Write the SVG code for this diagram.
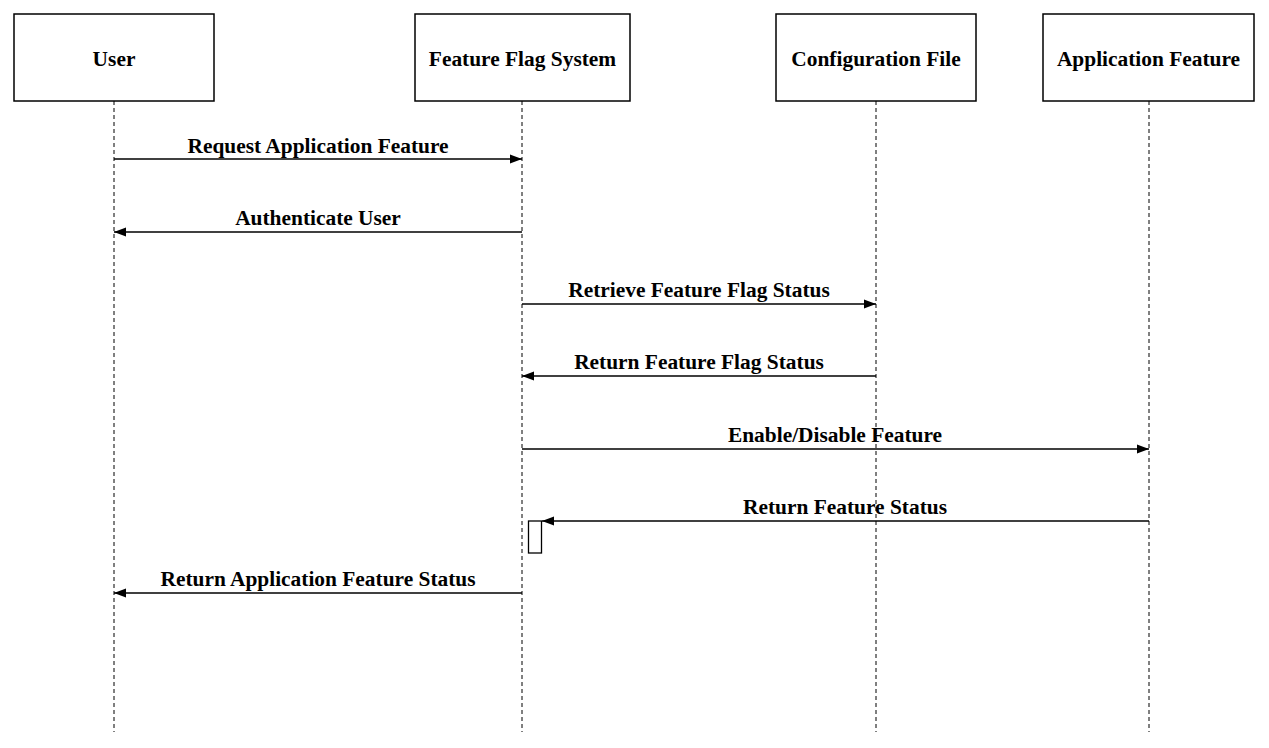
<svg xmlns="http://www.w3.org/2000/svg" width="1269" height="748" viewBox="0 0 1269 748">
<style>
.box{fill:#fff;stroke:#000;stroke-width:1.5}
.life{stroke:#000;stroke-width:1;stroke-dasharray:4,3}
.msg{stroke:#000;stroke-width:1.3;fill:none}
text{font-family:"Liberation Serif","Times New Roman",serif;font-weight:bold;font-size:21.4px;fill:#000;text-anchor:middle}
</style>
<defs>
<marker id="ah" viewBox="0 0 12 10" refX="12" refY="5" markerWidth="12" markerHeight="10" markerUnits="userSpaceOnUse" orient="auto">
<path d="M0,0.5 L12,5 L0,9.5 Z" fill="#000"/>
</marker>
</defs>
<rect width="1269" height="748" fill="#fff"/>
<g id="lifelines">
<line class="life" x1="114" y1="101" x2="114" y2="732"/>
<line class="life" x1="522" y1="101" x2="522" y2="732"/>
<line class="life" x1="876" y1="101" x2="876" y2="732"/>
<line class="life" x1="1149" y1="101" x2="1149" y2="732"/>
</g>
<g id="user"><rect class="box" x="14" y="14" width="200" height="87"/><text x="114" y="65.5">User</text></g>
<g id="ffs"><rect class="box" x="415" y="14" width="215" height="87"/><text x="522.5" y="65.5">Feature Flag System</text></g>
<g id="config"><rect class="box" x="776" y="14" width="200" height="87"/><text x="876" y="65.5">Configuration File</text></g>
<g id="appfeature"><rect class="box" x="1043" y="14" width="211" height="87"/><text x="1148.5" y="65.5">Application Feature</text></g>
<g id="activation"><rect x="528.5" y="521" width="13" height="32" fill="#fff" stroke="#000" stroke-width="1.3"/></g>
<g id="connectors">
<line class="msg" x1="114" y1="159" x2="522" y2="159" marker-end="url(#ah)"/>
<text x="318" y="152.5">Request Application Feature</text>
<line class="msg" x1="522" y1="232" x2="114" y2="232" marker-end="url(#ah)"/>
<text x="318" y="224.5">Authenticate User</text>
<line class="msg" x1="522" y1="304" x2="876" y2="304" marker-end="url(#ah)"/>
<text x="699" y="297">Retrieve Feature Flag Status</text>
<line class="msg" x1="876" y1="376" x2="522" y2="376" marker-end="url(#ah)"/>
<text x="699" y="369">Return Feature Flag Status</text>
<line class="msg" x1="522" y1="449" x2="1149" y2="449" marker-end="url(#ah)"/>
<text x="835" y="441.5">Enable/Disable Feature</text>
<line class="msg" x1="1149" y1="521" x2="542" y2="521" marker-end="url(#ah)"/>
<text x="845" y="513.5">Return Feature Status</text>
<line class="msg" x1="522" y1="593" x2="114" y2="593" marker-end="url(#ah)"/>
<text x="318" y="586">Return Application Feature Status</text>
</g>
</svg>
